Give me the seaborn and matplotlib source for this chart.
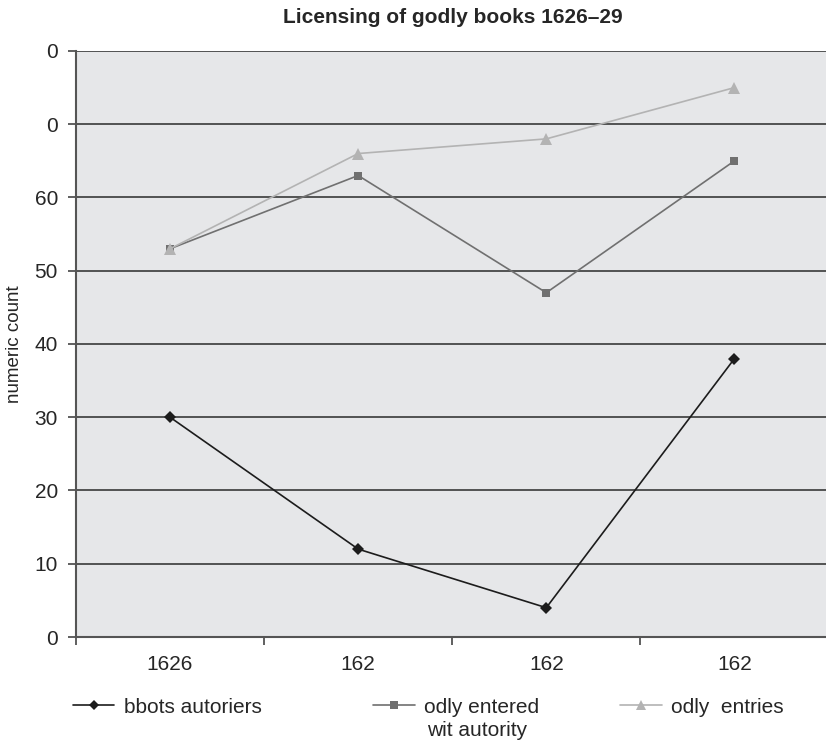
import matplotlib
matplotlib.use("Agg")
import matplotlib.pyplot as plt
from matplotlib.lines import Line2D
import seaborn as sns
import pandas as pd

# Data
years = ["1626", "162", "162", "162"]
abbots_authorities = [30, 12, 4, 38]
godly_entered_with_authority = [53, 63, 47, 65]
godly_entries = [53, 66, 68, 75]
y_ticks = [0, 10, 20, 30, 40, 50, 60, 70, 80]
y_tick_labels = ["0", "10", "20", "30", "40", "50", "60", "0", "0"]
series_names = ["bbots autoriers", "odly entered", "odly  entries"]
series_colors = ["#1c1c1c", "#707070", "#b3b3b3"]
series_markers = ["D", "s", "^"]
series_sizes = [6, 6, 8]

sns.set_theme(style="white")
plt.rcParams["font.family"] = ["Liberation Sans", "DejaVu Sans"]

rows = []
for name, vals in zip(series_names, [abbots_authorities, godly_entered_with_authority, godly_entries]):
    for i, v in enumerate(vals):
        rows.append({"pos": i, "count": v, "series": name})
df = pd.DataFrame(rows)

fig = plt.figure(figsize=(8.26, 7.42), dpi=100)
ax = fig.add_axes([0.092, 0.1415, 0.911, 0.7898])
ax.set_facecolor("#e6e7e9")

for name, color, marker, ms in zip(series_names, series_colors, series_markers, series_sizes):
    sub = df[df["series"] == name]
    sns.lineplot(data=sub, x="pos", y="count", ax=ax, color=color, marker=marker,
                 markersize=ms, markeredgewidth=0, linewidth=1.2, legend=False)

ax.set_xlim(-0.5, 3.5)
ax.set_ylim(0, 80)
ax.set_yticks(y_ticks)
ax.set_yticklabels(y_tick_labels)
ax.yaxis.grid(True, color="#2a2a2a", linewidth=1.1)
ax.set_axisbelow(True)

# category boundaries as ticks, labels centered between them
ax.set_xticks([-0.5, 0.5, 1.5, 2.5, 3.5])
ax.set_xticklabels([])
ax.set_xticks(range(len(years)), minor=True)
ax.set_xticklabels(years, minor=True)
ax.tick_params(axis="x", which="major", direction="out", length=6, width=1.2, color="#444444", bottom=True)
ax.tick_params(axis="x", which="minor", length=0, pad=13, labelsize=15)
ax.tick_params(axis="y", direction="out", length=6, width=1.2, color="#444444", left=True, pad=7, labelsize=15)

for side in ["top", "right"]:
    ax.spines[side].set_visible(False)
for side in ["left", "bottom"]:
    ax.spines[side].set_color("#555555")
    ax.spines[side].set_linewidth(1.5)

ax.set_xlabel("")
ax.set_ylabel("numeric count", fontsize=13.5, labelpad=8)
fig.text(0.548, 0.976, "Licensing of godly books 1626\u201329", ha="center", va="center",
         fontsize=15, fontweight="bold")

# Legend entries along the bottom
legend_x = [0.088, 0.452, 0.751]
for name, color, marker, ms, lx in zip(series_names, series_colors, series_markers, series_sizes, legend_x):
    h = Line2D([], [], color=color, marker=marker, markersize=ms * 0.85, markeredgewidth=0, linewidth=1.2)
    leg = fig.legend([h], [name], loc="center left", bbox_to_anchor=(lx, 0.047), frameon=False,
                     fontsize=15, handlelength=2.0, handletextpad=0.45, borderpad=0, borderaxespad=0)
fig.text(0.578, 0.015, "wit autority", ha="center", va="center", fontsize=15)

fig.savefig("out.png", dpi=100)
